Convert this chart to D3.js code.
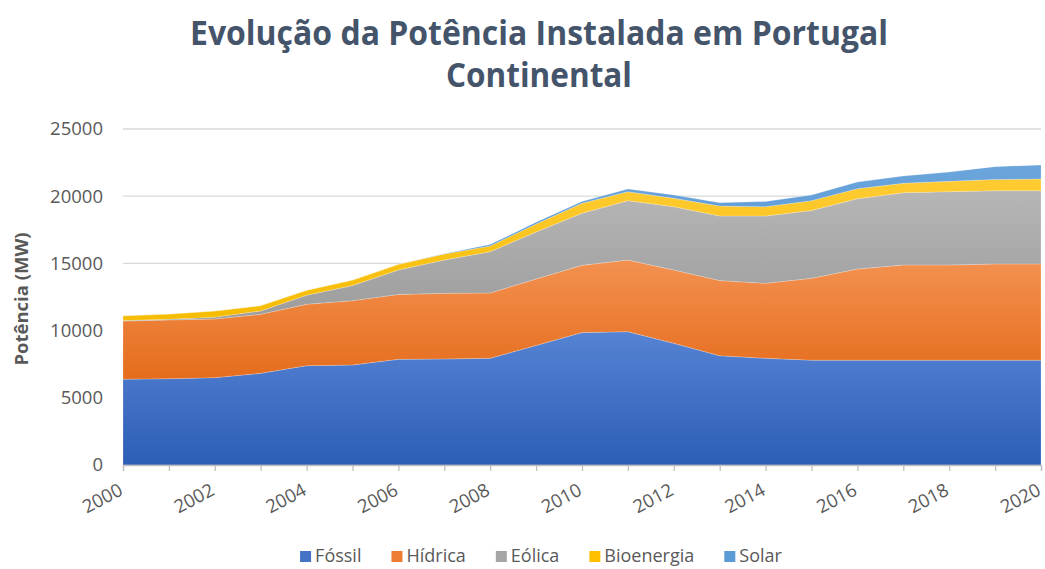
<!DOCTYPE html>
<html>
<head>
<meta charset="utf-8">
<script src="https://cdn.jsdelivr.net/npm/d3@7"></script>
<style>
  body { margin: 0; background: #fff; }
  svg { display: block; font-family: "Open Sans", sans-serif; }
</style>
</head>
<body>
<svg id="chart" width="1045" height="569"></svg>
<script>
const years = d3.range(2000, 2021);
const seriesNames = ["Fóssil", "Hídrica", "Eólica", "Bioenergia", "Solar"];

const fossil = [6380, 6420, 6500, 6820, 7390, 7440, 7860, 7890, 7940, 8900, 9850, 9920, 9050, 8130, 7940, 7800, 7800, 7800, 7800, 7800, 7800];
const hydro = [4330, 4370, 4360, 4390, 4570, 4790, 4830, 4880, 4860, 4940, 5010, 5330, 5460, 5590, 5580, 6090, 6780, 7080, 7080, 7160, 7160];
const wind = [40, 60, 140, 250, 670, 1120, 1820, 2480, 3070, 3500, 3870, 4420, 4710, 4810, 5010, 5040, 5230, 5380, 5460, 5450, 5450];
const bio = [350, 380, 460, 400, 370, 410, 420, 450, 430, 590, 740, 670, 620, 740, 690, 740, 750, 700, 770, 840, 870];
const solar = [0, 0, 0, 0, 0, 0, 0, 20, 100, 130, 130, 200, 250, 250, 380, 420, 490, 540, 690, 950, 1040];

const yTicks = [0, 5000, 10000, 15000, 20000, 25000];
const xLabelYears = d3.range(2000, 2021, 2);

const seriesValues = [fossil, hydro, wind, bio, solar];
const colorsTop = ["#5683d3", "#f39150", "#b6b6b6", "#ffcb33", "#6ba5dc"];
const colorsBottom = ["#2d5db6", "#e56c1c", "#9c9c9c", "#f5bc00", "#4f8ecf"];
const legendColors = ["#4472c4", "#ed7d31", "#a5a5a5", "#ffc000", "#5b9bd5"];

const svg = d3.select("#chart");
const plotLeft = 123, plotRight = 1041, plotTop = 129, plotBottom = 465;

const x = d3.scaleLinear().domain([2000, 2020]).range([plotLeft, plotRight]);
const y = d3.scaleLinear().domain([0, 25000]).range([plotBottom, plotTop]);

const rows = years.map((yr, i) => {
  const r = {year: yr};
  seriesNames.forEach((s, k) => r[s] = seriesValues[k][i]);
  return r;
});
const stacked = d3.stack().keys(seriesNames)(rows);

// gradients
const defs = svg.append("defs");
seriesNames.forEach((s, k) => {
  const g = defs.append("linearGradient")
    .attr("id", "grad" + k)
    .attr("x1", 0).attr("y1", 0).attr("x2", 0).attr("y2", 1);
  g.append("stop").attr("offset", "0%").attr("stop-color", colorsTop[k]);
  g.append("stop").attr("offset", "100%").attr("stop-color", colorsBottom[k]);
});

// title
svg.append("text")
  .attr("x", 539).attr("y", 45)
  .attr("text-anchor", "middle")
  .attr("textLength", 698).attr("lengthAdjust", "spacingAndGlyphs")
  .style("font-size", "34px").style("font-weight", "bold").style("fill", "#44546a")
  .text("Evolução da Potência Instalada em Portugal");
svg.append("text")
  .attr("x", 539).attr("y", 87)
  .attr("text-anchor", "middle")
  .attr("textLength", 186).attr("lengthAdjust", "spacingAndGlyphs")
  .style("font-size", "34px").style("font-weight", "bold").style("fill", "#44546a")
  .text("Continental");

// gridlines
svg.append("g")
  .selectAll("line")
  .data(yTicks.filter(d => d > 0))
  .enter().append("line")
  .attr("x1", plotLeft).attr("x2", plotRight)
  .attr("y1", d => y(d)).attr("y2", d => y(d))
  .style("stroke", "#d9d9d9").style("stroke-width", 1.3);

// areas
const area = d3.area()
  .x(d => x(d.data.year))
  .y0(d => y(d[0]))
  .y1(d => y(d[1]));

svg.append("g")
  .selectAll("path")
  .data(stacked)
  .enter().append("path")
  .attr("d", area)
  .style("fill", (d, i) => "url(#grad" + i + ")")
  .style("stroke", "#ffffff").style("stroke-opacity", 0.25).style("stroke-width", 0.8);

// y axis
const yAxis = svg.append("g")
  .attr("transform", "translate(" + plotLeft + ",0)")
  .call(d3.axisLeft(y).tickValues(yTicks).tickSize(0).tickPadding(20).tickFormat(d3.format("d")));
yAxis.select(".domain").remove();
yAxis.selectAll("text")
  .style("font-size", "18.5px").style("fill", "#595959").style("font-family", "Open Sans");

// x axis
const xAxis = svg.append("g")
  .attr("transform", "translate(0," + plotBottom + ")")
  .call(d3.axisBottom(x).tickValues(years).tickSize(6).tickFormat(""));
xAxis.select(".domain").style("stroke", "#bfbfbf").style("stroke-width", 1.3);
xAxis.selectAll(".tick line").style("stroke", "#bfbfbf").style("stroke-width", 1.3);

svg.append("g")
  .selectAll("text")
  .data(xLabelYears)
  .enter().append("text")
  .attr("transform", d => "translate(" + (x(d) + 1) + "," + (plotBottom + 29) + ") rotate(-28)")
  .attr("text-anchor", "end")
  .style("font-size", "18.5px").style("fill", "#595959")
  .text(d => d);

// y title
svg.append("text")
  .attr("transform", "translate(28,299) rotate(-90)")
  .attr("text-anchor", "middle")
  .style("font-size", "18.5px").style("font-weight", "bold").style("fill", "#595959")
  .text("Potência (MW)");

// legend
const legend = svg.append("g");
let lx = 0;
seriesNames.forEach((s, k) => {
  const item = legend.append("g").attr("transform", "translate(" + lx + ",0)");
  item.append("rect")
    .attr("x", 0).attr("y", -11).attr("width", 11).attr("height", 11)
    .style("fill", legendColors[k]);
  const t = item.append("text")
    .attr("x", 15).attr("y", 0)
    .style("font-size", "18px").style("fill", "#595959")
    .text(s);
  lx += 15 + t.node().getComputedTextLength() + 30;
});
const legendWidth = lx - 30;
legend.attr("transform", "translate(" + (541 - legendWidth / 2) + ",562)");
</script>
</body>
</html>
